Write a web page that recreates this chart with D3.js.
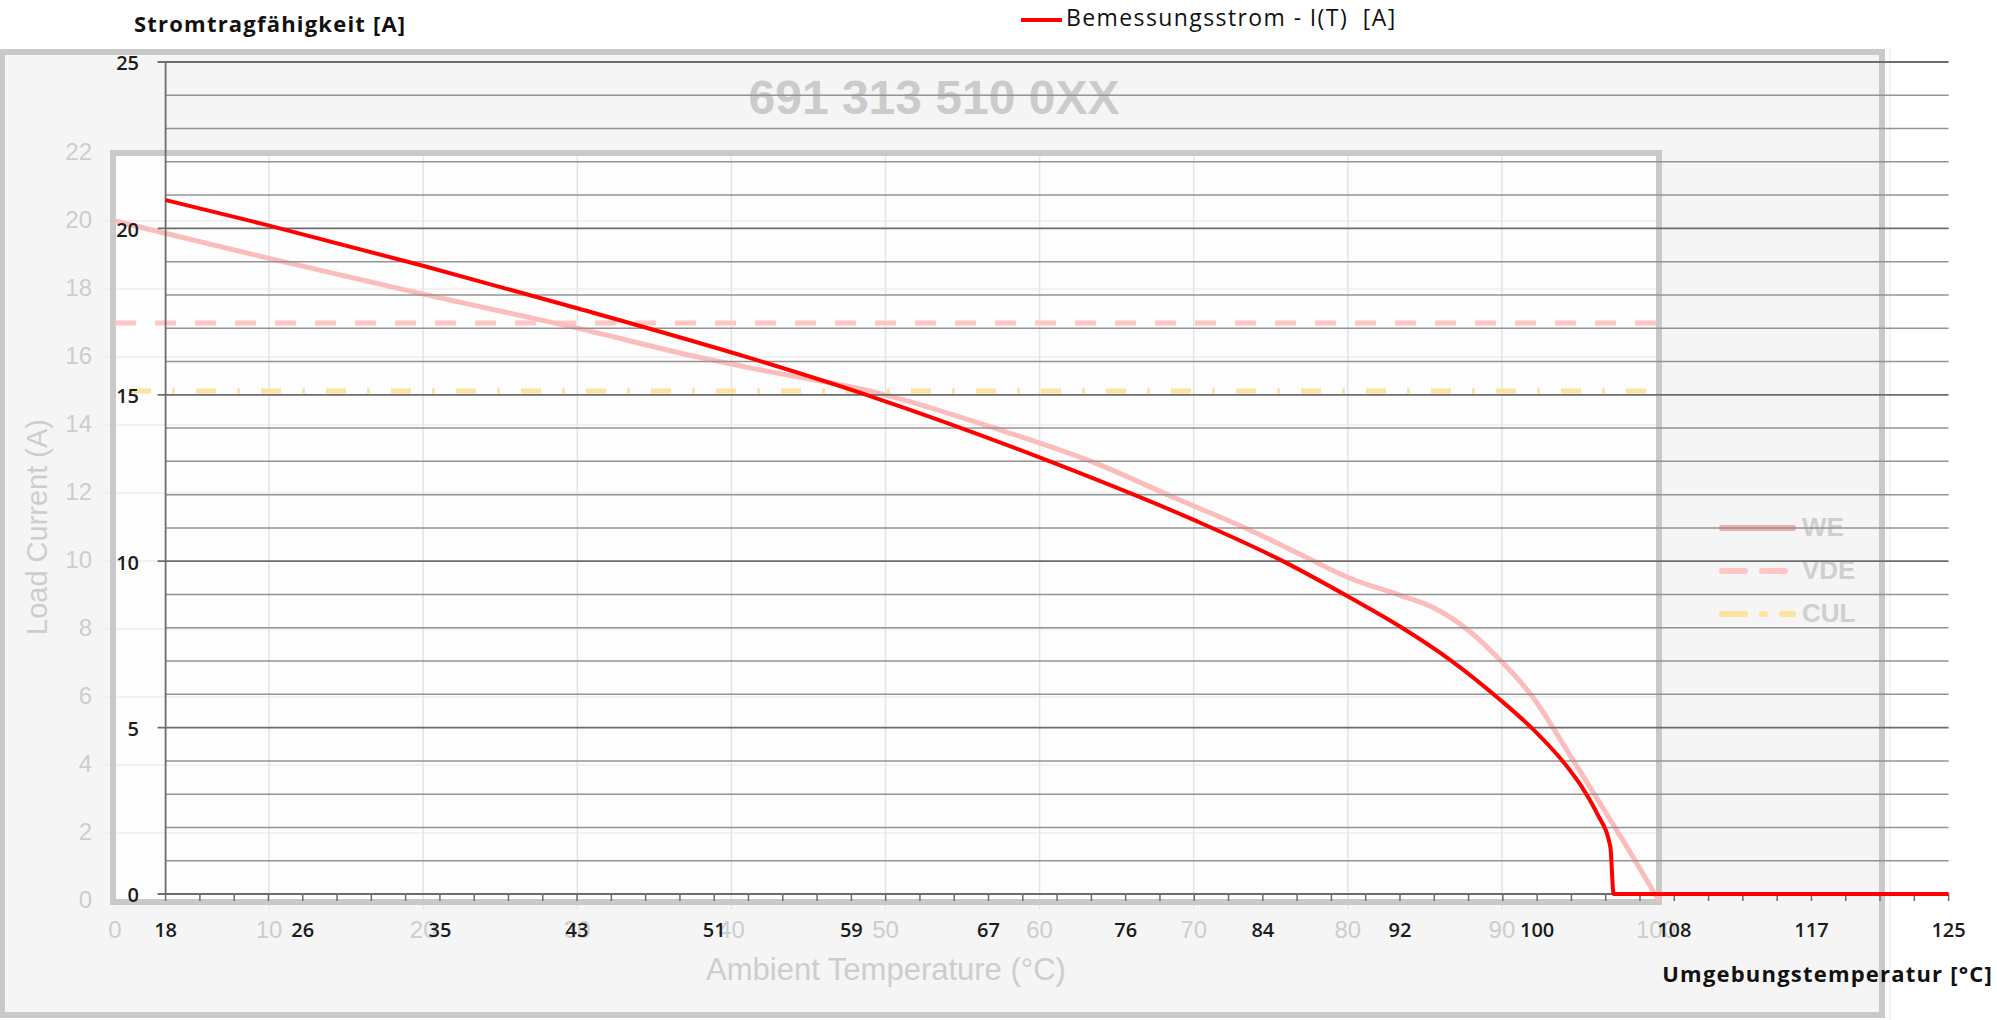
<!DOCTYPE html>
<html>
<head>
<meta charset="utf-8">
<script src="https://cdnjs.cloudflare.com/ajax/libs/d3/7.8.5/d3.min.js"></script>
<style>
  body { margin: 0; background: #fff; }
  svg { display: block; }
</style>
</head>
<body>
<div class="viewbox"></div>
<script>
// two charts on top of each other: a faded datasheet picture behind (WE / VDE / CUL)
// and the real rating curve in front (Bemessungsstrom)

// --- background chart data (faded one) ---
const weTemp    = [0, 10, 20, 30, 38, 41.2, 49.8, 57.6, 63.5, 68.9, 73.7, 76.9, 80.1, 83.4, 85.5, 87.7, 89.9, 92.0, 94.2, 96.4, 98.5, 100.2]
const weCurrent = [20, 18.9, 17.85, 16.85, 15.98, 15.68, 14.91, 13.83, 12.9, 11.83, 10.9, 10.2, 9.5, 8.99, 8.64, 8.01, 7.08, 6.0, 4.45, 2.85, 1.3, 0]
const vdeLimit = 17
const culLimit = 15
const bgXTicks = [0, 10, 20, 30, 40, 50, 60, 70, 80, 90, 100]
const bgYTicks = [0, 2, 4, 6, 8, 10, 12, 14, 16, 18, 20, 22]
const bgLegend = ["WE", "VDE", "CUL"]
const bgTitle = "691 313 510 0XX"

// --- foreground chart data ---
const ratedTemp    = [18, 24.1, 33.5, 42.7, 53.1, 60.4, 70.6, 79.7, 84.9, 89.1, 92.1, 95.1, 98.1, 100.1, 102.1, 103.1, 103.9, 104.7, 104.9, 125]
const ratedCurrent = [20.85, 20.1, 18.87, 17.6, 16.1, 14.94, 13.09, 11.24, 10.04, 8.9, 8.03, 7.03, 5.83, 4.93, 3.83, 3.13, 2.42, 1.42, 0, 0]
const fgXTickLabels = ["18", "26", "35", "43", "51", "59", "67", "76", "84", "92", "100", "108", "117", "125"]
const fgYTicks = [0, 5, 10, 15, 20, 25]

const svg_width = 1997
const svg_height = 1020

let svg = d3.select(".viewbox")
  .append("svg")
  .attr("width", svg_width)
  .attr("height", svg_height)

const bgFont = "'Liberation Sans', Arial, sans-serif"
const fgFont = "'Open Sans', 'Noto Sans', sans-serif"
const faded = "#cdcdcd"

// ================= background chart =================
let bgX = d3.scaleLinear().domain([0, 100]).range([115, 1656])
let bgY = d3.scaleLinear().domain([0, 22]).range([901, 153])

let bg = svg.append("g").attr("class", "bg")

// outer grey panel
bg.append("line")
  .attr("x1", 1890).attr("x2", 1890).attr("y1", 48).attr("y2", 1020)
  .attr("stroke", "#f2f2f2").attr("stroke-width", 2)
bg.append("rect")
  .attr("x", 2).attr("y", 52)
  .attr("width", 1880).attr("height", 963)
  .attr("fill", "#f5f5f5")
  .attr("stroke", "#c9c9c9").attr("stroke-width", 6)

// plot area
bg.append("rect")
  .attr("x", bgX(0) - 2).attr("y", bgY(22))
  .attr("width", bgX(100) - bgX(0) + 5).attr("height", bgY(0) - bgY(22) + 1)
  .attr("fill", "#fdfdfd")

bg.selectAll(".bg-hgrid")
  .data(bgYTicks.filter(d => d > 0 && d < 22))
  .enter()
  .append("line")
  .attr("class", "bg-hgrid")
  .attr("x1", bgX(0) - 10).attr("x2", bgX(100))
  .attr("y1", d => bgY(d)).attr("y2", d => bgY(d))
  .attr("stroke", "#ececec").attr("stroke-width", 1.5)

bg.selectAll(".bg-vgrid")
  .data(bgXTicks.filter(d => d > 0 && d < 100))
  .enter()
  .append("line")
  .attr("class", "bg-vgrid")
  .attr("x1", d => bgX(d)).attr("x2", d => bgX(d))
  .attr("y1", bgY(22)).attr("y2", bgY(0) + 8)
  .attr("stroke", "#e4e4e4").attr("stroke-width", 1.5)

bg.append("rect")
  .attr("x", bgX(0) - 2).attr("y", bgY(22))
  .attr("width", bgX(100) - bgX(0) + 5).attr("height", bgY(0) - bgY(22) + 1)
  .attr("fill", "none")
  .attr("stroke", "#c9c9c9").attr("stroke-width", 6)

// tick labels
bg.selectAll(".bg-ylab")
  .data(bgYTicks)
  .enter()
  .append("text")
  .attr("class", "bg-ylab")
  .attr("x", 92).attr("y", d => bgY(d) + 1)
  .attr("text-anchor", "end").attr("dominant-baseline", "middle")
  .attr("font-family", bgFont).attr("font-size", 24).attr("fill", faded)
  .text(d => d)

bg.selectAll(".bg-xlab")
  .data(bgXTicks)
  .enter()
  .append("text")
  .attr("class", "bg-xlab")
  .attr("x", d => bgX(d)).attr("y", 932)
  .attr("text-anchor", "middle").attr("dominant-baseline", "middle")
  .attr("font-family", bgFont).attr("font-size", 24).attr("fill", faded)
  .text(d => d)

bg.append("text")
  .attr("transform", "translate(47,527) rotate(-90)")
  .attr("text-anchor", "middle")
  .attr("font-family", bgFont).attr("font-size", 29).attr("fill", faded)
  .text("Load Current (A)")

bg.append("text")
  .attr("x", 886).attr("y", 980)
  .attr("text-anchor", "middle")
  .attr("font-family", bgFont).attr("font-size", 31).attr("fill", faded)
  .text("Ambient Temperature (°C)")

bg.append("text")
  .attr("x", 934).attr("y", 114)
  .attr("text-anchor", "middle")
  .attr("font-family", bgFont).attr("font-size", 48).attr("font-weight", "bold")
  .attr("fill", "#cbcbcb")
  .text(bgTitle)

// limit lines
bg.append("line")
  .attr("x1", bgX(0)).attr("x2", bgX(100))
  .attr("y1", bgY(vdeLimit)).attr("y2", bgY(vdeLimit))
  .attr("stroke", "#ffc6c6").attr("stroke-width", 5)
  .attr("stroke-dasharray", "21,19")

bg.append("line")
  .attr("x1", bgX(0)).attr("x2", bgX(100))
  .attr("y1", bgY(culLimit)).attr("y2", bgY(culLimit))
  .attr("stroke", "#fde3a0").attr("stroke-width", 5)
  .attr("stroke-dasharray", "20,21,3,21")
  .attr("stroke-dashoffset", -16)

let weLine = d3.line()
  .x((d, i) => bgX(weTemp[i]))
  .y(d => bgY(d))
  .curve(d3.curveMonotoneX)

bg.append("path")
  .attr("d", weLine(weCurrent))
  .attr("fill", "none")
  .attr("stroke", "#fbbcbc").attr("stroke-width", 5)

// faded legend
const legendStyles = [
  { stroke: "#f2adad", dash: null },
  { stroke: "#ffc6c6", dash: "23,17" },
  { stroke: "#fde3a0", dash: "23,17,3,17" }
]
let bgLeg = bg.selectAll(".bg-leg")
  .data(bgLegend)
  .enter()
  .append("g")
  .attr("class", "bg-leg")
  .attr("transform", (d, i) => `translate(1722,${528 + i * 43})`)

bgLeg.append("line")
  .attr("x1", 0).attr("x2", 71)
  .attr("stroke", (d, i) => legendStyles[i].stroke)
  .attr("stroke-width", 6)
  .attr("stroke-linecap", "round")
  .attr("stroke-dasharray", (d, i) => legendStyles[i].dash)

bgLeg.append("text")
  .attr("x", 80).attr("y", 1)
  .attr("dominant-baseline", "middle")
  .attr("font-family", bgFont).attr("font-size", 26).attr("font-weight", "bold")
  .attr("fill", "#cfcfcf")
  .text(d => d)

// ================= foreground chart =================
let fgX = d3.scaleLinear().domain([18, 125]).range([165.6, 1948.6])
let fgY = d3.scaleLinear().domain([0, 25]).range([894, 62])

let fg = svg.append("g").attr("class", "fg")

// every 1 A a gridline, the 5 A ones a bit darker
fg.selectAll(".fg-grid")
  .data(d3.range(0, 26))
  .enter()
  .append("line")
  .attr("class", "fg-grid")
  .attr("x1", d => d % 5 === 0 ? fgX(18) - 8 : fgX(18))
  .attr("x2", fgX(125))
  .attr("y1", d => fgY(d)).attr("y2", d => fgY(d))
  .attr("stroke", d => d % 5 === 0 ? "#6c6c6c" : "#939393")
  .attr("stroke-width", d => d % 5 === 0 ? 1.8 : 1.5)

fg.append("line")
  .attr("x1", fgX(18)).attr("x2", fgX(18))
  .attr("y1", fgY(25)).attr("y2", fgY(0))
  .attr("stroke", "#6c6c6c").attr("stroke-width", 1.8)

// labels are evenly spaced along the axis, 4 minor ticks per step
const nSteps = fgXTickLabels.length - 1
let majorPos = d3.range(fgXTickLabels.length).map(i => 18 + i * (125 - 18) / nSteps)
let minorPos = d3.range(nSteps * 4 + 1).map(i => 18 + i * (125 - 18) / (nSteps * 4))

fg.selectAll(".fg-tick")
  .data(minorPos)
  .enter()
  .append("line")
  .attr("class", "fg-tick")
  .attr("x1", d => fgX(d)).attr("x2", d => fgX(d))
  .attr("y1", fgY(0)).attr("y2", fgY(0) + 7)
  .attr("stroke", "#6c6c6c").attr("stroke-width", 1.5)

fg.selectAll(".fg-xlab")
  .data(majorPos)
  .enter()
  .append("text")
  .attr("class", "fg-xlab")
  .attr("x", d => fgX(d)).attr("y", 932)
  .attr("text-anchor", "middle").attr("dominant-baseline", "middle")
  .attr("font-family", fgFont).attr("font-size", 20).attr("font-weight", 600)
  .attr("fill", "#1c1c1c")
  .text((d, i) => fgXTickLabels[i])

fg.selectAll(".fg-ylab")
  .data(fgYTicks)
  .enter()
  .append("text")
  .attr("class", "fg-ylab")
  .attr("x", 139).attr("y", d => fgY(d) + 3)
  .attr("text-anchor", "end").attr("dominant-baseline", "middle")
  .attr("font-family", fgFont).attr("font-size", 20).attr("font-weight", 600)
  .attr("fill", "#1c1c1c")
  .text(d => d)

fg.append("text")
  .attr("x", 134).attr("y", 26)
  .attr("dominant-baseline", "middle")
  .attr("font-family", fgFont).attr("font-size", 22).attr("font-weight", "bold")
  .attr("letter-spacing", 1.2)
  .attr("fill", "#111")
  .text("Stromtragfähigkeit [A]")

fg.append("text")
  .attr("x", 1993).attr("y", 976)
  .attr("text-anchor", "end").attr("dominant-baseline", "middle")
  .attr("font-family", fgFont).attr("font-size", 22).attr("font-weight", "bold")
  .attr("letter-spacing", 1.2)
  .attr("fill", "#111")
  .text("Umgebungstemperatur [°C]")

// legend on top
fg.append("line")
  .attr("x1", 1021).attr("x2", 1062).attr("y1", 20).attr("y2", 20)
  .attr("stroke", "#ff0000").attr("stroke-width", 4)
fg.append("text")
  .attr("x", 1066).attr("y", 20)
  .attr("dominant-baseline", "middle")
  .attr("font-family", fgFont).attr("font-size", 23)
  .attr("letter-spacing", 1.4)
  .attr("fill", "#111")
  .style("white-space", "pre")
  .text("Bemessungsstrom - I(T)  [A]")

let ratedLine = d3.line()
  .x((d, i) => fgX(ratedTemp[i]))
  .y(d => fgY(d))
  .curve(d3.curveMonotoneX)

fg.append("path")
  .attr("d", ratedLine(ratedCurrent))
  .attr("fill", "none")
  .attr("stroke", "#ff0000").attr("stroke-width", 4)
  .attr("stroke-linejoin", "round")
</script>
</body>
</html>
